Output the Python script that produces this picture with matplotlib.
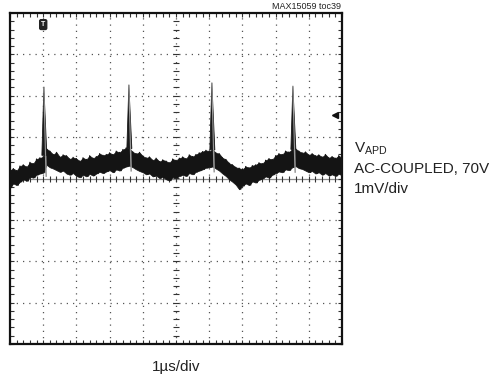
import numpy as np
import matplotlib
matplotlib.use('Agg')
import matplotlib.pyplot as plt
from matplotlib.ticker import MultipleLocator, NullFormatter

plt.rcParams['font.family'] = ['Liberation Sans', 'DejaVu Sans']
plt.rcParams['mathtext.fontset'] = 'custom'
plt.rcParams['mathtext.rm'] = 'Liberation Sans'

# scope trace: 1us/div, 1mV/div, 10 x 8 divisions
t_us = [0.0, 0.1, 0.2, 0.3, 0.4, 0.5, 0.6, 0.7, 0.8, 0.9,
        1.0, 1.1, 1.2, 1.3, 1.4, 1.5, 1.6, 1.7, 1.8, 1.9,
        2.0, 2.1, 2.2, 2.3, 2.4, 2.5, 2.6, 2.7, 2.8, 2.9,
        3.0, 3.1, 3.2, 3.3, 3.4, 3.5, 3.6, 3.7, 3.8, 3.9,
        4.0, 4.1, 4.2, 4.3, 4.4, 4.5, 4.6, 4.7, 4.8, 4.9,
        5.0, 5.1, 5.2, 5.3, 5.4, 5.5, 5.6, 5.7, 5.8, 5.9,
        6.0, 6.1, 6.2, 6.3, 6.4, 6.5, 6.6, 6.7, 6.8, 6.9,
        7.0, 7.1, 7.2, 7.3, 7.4, 7.5, 7.6, 7.7, 7.8, 7.9,
        8.0, 8.1, 8.2, 8.3, 8.4, 8.5, 8.6, 8.7, 8.8, 8.9,
        9.0, 9.1, 9.2, 9.3, 9.4, 9.5, 9.6, 9.7, 9.8, 9.9, 10.0]

# upper and lower edge of the noise band (mV)
band_top_mv = [0.20, 0.24, 0.19, 0.30, 0.33, 0.28, 0.39, 0.36, 0.47, 0.50,
               0.52, 0.72, 0.66, 0.58, 0.63, 0.52, 0.57, 0.55, 0.47, 0.51,
               0.48, 0.42, 0.50, 0.46, 0.55, 0.49, 0.53, 0.60, 0.56, 0.58,
               0.62, 0.58, 0.66, 0.63, 0.70, 0.74, 0.72, 0.64, 0.60, 0.63,
               0.54, 0.50, 0.52, 0.44, 0.49, 0.41, 0.45, 0.42, 0.38, 0.47,
               0.44, 0.49, 0.52, 0.48, 0.57, 0.53, 0.58, 0.62, 0.65, 0.68,
               0.66, 0.70, 0.62, 0.60, 0.50, 0.46, 0.37, 0.33, 0.27, 0.25,
               0.22, 0.29, 0.26, 0.31, 0.33, 0.38, 0.36, 0.44, 0.48, 0.46,
               0.55, 0.60, 0.58, 0.66, 0.64, 0.70, 0.72, 0.66, 0.62, 0.64,
               0.57, 0.60, 0.55, 0.57, 0.52, 0.58, 0.50, 0.53, 0.49, 0.55, 0.50]
band_bot_mv = [-0.22, -0.12, -0.16, -0.08, -0.02, -0.06, 0.04, 0.02, 0.09, 0.12,
               0.14, 0.33, 0.27, 0.24, 0.20, 0.16, 0.19, 0.12, 0.09, 0.13,
               0.06, 0.03, 0.09, 0.05, 0.11, 0.07, 0.12, 0.16, 0.13, 0.17,
               0.20, 0.15, 0.22, 0.19, 0.26, 0.29, 0.31, 0.27, 0.22, 0.18,
               0.15, 0.10, 0.12, 0.05, 0.07, 0.01, 0.04, -0.02, -0.05, 0.03,
               0.02, 0.06, 0.09, 0.06, 0.13, 0.10, 0.16, 0.19, 0.22, 0.26,
               0.27, 0.29, 0.24, 0.19, 0.12, 0.06, -0.02, -0.08, -0.15, -0.26,
               -0.18, -0.12, -0.16, -0.07, -0.10, -0.03, 0.00, 0.05, 0.02, 0.09,
               0.13, 0.17, 0.15, 0.22, 0.20, 0.27, 0.30, 0.25, 0.23, 0.19,
               0.15, 0.18, 0.12, 0.15, 0.09, 0.13, 0.07, 0.10, 0.06, 0.11, 0.08]

# avalanche photodiode current spikes
peak_t_us = [1.02, 3.58, 6.08, 8.52]
peak_mv = [2.21, 2.26, 2.31, 2.23]

trigger_t_us = 1.0
level_marker_mv = 1.53

fig = plt.figure(figsize=(4.91, 3.77), dpi=100)
ax = fig.add_axes([10 / 491, 33 / 377, 332 / 491, 331 / 377])
ax.set_xlim(0, 10)
ax.set_ylim(-4, 4)

# graticule
for gx in range(1, 10):
    ax.axvline(gx, color='#555555', lw=0.9, ls=(0, (1, 4)), zorder=1)
for gy in range(-3, 4):
    if gy != 0:
        ax.axhline(gy, color='#555555', lw=0.9, ls=(0, (1, 4)), zorder=1)
ax.axhline(0, color='#8a8a8a', lw=0.9, zorder=1)
ax.plot(np.arange(0.2, 10, 0.2), np.zeros(49), ls='none', marker='|',
        ms=4, mew=0.8, color='#333333', zorder=2)
ax.plot(np.full(39, 5.0), np.arange(-3.8, 4, 0.2), ls='none', marker='_',
        ms=4, mew=0.8, color='#333333', zorder=2)

ax.xaxis.set_major_locator(MultipleLocator(1))
ax.xaxis.set_minor_locator(MultipleLocator(0.2))
ax.yaxis.set_major_locator(MultipleLocator(1))
ax.yaxis.set_minor_locator(MultipleLocator(0.2))
ax.xaxis.set_major_formatter(NullFormatter())
ax.yaxis.set_major_formatter(NullFormatter())
ax.tick_params(which='both', direction='in', top=True, right=True,
               length=3, width=0.8, color='#333333')
for sp in ax.spines.values():
    sp.set_linewidth(1.6)
    sp.set_color('#111111')

# trace: filled band plus a scribble between its edges
ax.fill_between(t_us, band_bot_mv, band_top_mv, color='#141414',
                edgecolor='#141414', lw=0.5, zorder=3)
zx, zy = [], []
for t, hi, lo in zip(t_us, band_top_mv, band_bot_mv):
    zx += [t, t + 0.05]
    zy += [hi, lo]
ax.plot(zx, zy, color='#141414', lw=0.9, zorder=3)

for tp, vp in zip(peak_t_us, peak_mv):
    base = np.interp(tp, t_us, band_top_mv)
    low = np.interp(tp, t_us, band_bot_mv)
    ax.plot([tp + 0.03, tp + 0.07], [vp * 0.6, low - 0.12],
            color='#999999', lw=1.1, zorder=3)
    ax.fill([tp - 0.06, tp, tp + 0.09], [base, vp, base],
            color='#1a1a1a', lw=0.6, zorder=4)
    ax.plot([tp, tp + 0.05], [vp, base], color='#9a9a9a', lw=0.8, zorder=5)

# channel / trigger markers
ax.text(trigger_t_us, 3.72, 'T', color='white', fontsize=5, fontweight='bold',
        ha='center', va='center', zorder=6,
        bbox=dict(boxstyle='round,pad=0.2', fc='#222222', ec='#222222'))
ax.plot(9.8, level_marker_mv, marker='<', ms=4.5, color='#111111', zorder=6)

fig.text(341 / 491, 1 - 9 / 377, 'MAX15059 toc39', fontsize=6.5,
         ha='right', va='baseline', color='#222222')
fig.text(354 / 491, 1 - 152 / 377, r'V$_{\mathrm{APD}}$', fontsize=11,
         ha='left', va='baseline', color='#222222')
fig.text(354 / 491, 1 - 173 / 377, 'AC-COUPLED, 70V', fontsize=11,
         ha='left', va='baseline', color='#222222')
fig.text(354 / 491, 1 - 193 / 377, '1mV/div', fontsize=11,
         ha='left', va='baseline', color='#222222')
fig.text(176 / 491, 1 - 371 / 377, '1\u00b5s/div', fontsize=11,
         ha='center', va='baseline', color='#222222')

fig.savefig('out.png', dpi=100)
